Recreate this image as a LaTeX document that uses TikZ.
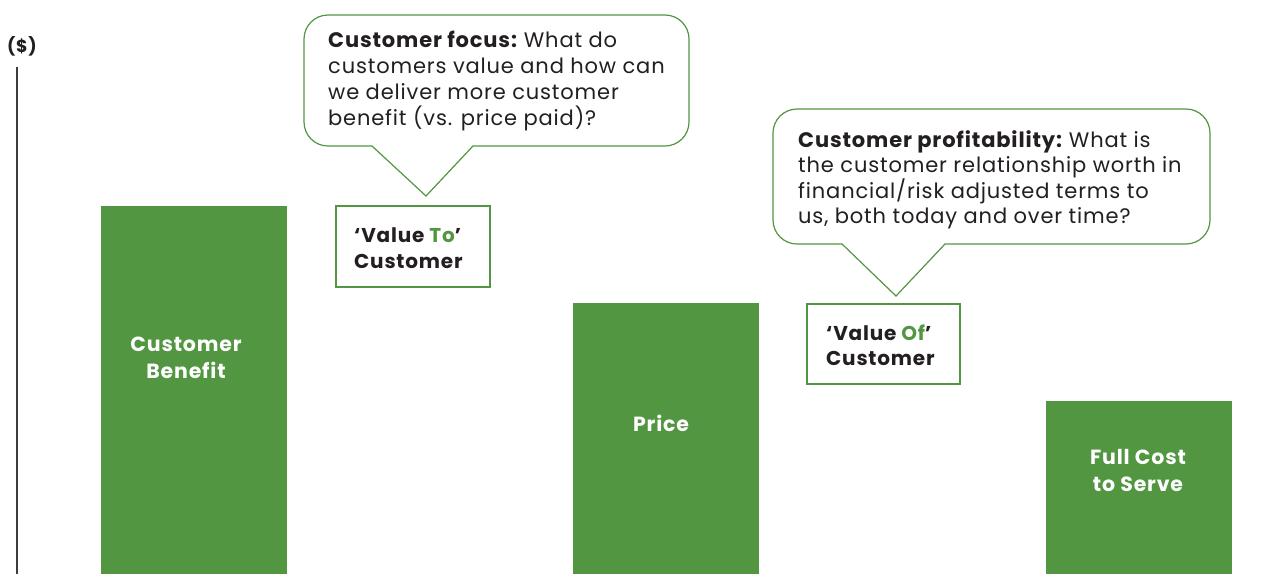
\documentclass[tikz,border=0pt]{standalone}
\usepackage{fontspec}
\setmainfont[LetterSpace=4]{Poppins}
\definecolor{bargreen}{RGB}{82,150,65}
\definecolor{txt}{RGB}{35,31,32}
\definecolor{axisgray}{RGB}{60,60,60}
\begin{document}
\begin{tikzpicture}[x=1pt,y=-1pt,
  bar/.style={fill=bargreen,draw=none},
  barlabel/.style={text=white,font=\fontsize{20.5}{27}\selectfont\bfseries,align=center,inner sep=0pt},
  callout/.style={draw=bargreen,line width=1.2pt,fill=white},
  valbox/.style={draw=bargreen,line width=1.2pt,fill=white},
  ctext/.style={text=txt,inner sep=0pt,anchor=base west},
]
\useasboundingbox (0,0) rectangle (1287,574);
% axis
\node[ctext,font=\fontsize{17.5}{20}\selectfont\bfseries] (unit) at (7,52) {(\$)};
\coordinate (axtop) at (17,67);
\coordinate (axbot) at (17,574);
\draw[axisgray,line width=1.8pt] (axtop) -- (axbot);
% bars
\fill[bar] (101,206) rectangle (287,574);
\node[barlabel] (cb) at (186,358) {Customer\\Benefit};
\fill[bar] (573,303) rectangle (759,574);
\node[barlabel] (pr) at (661,423) {Price};
\fill[bar] (1046,401) rectangle (1232,574);
\node[barlabel] (fc) at (1138,470) {Full Cost\\to Serve};
% callout 1
\draw[callout] (426,196) -- (473,146) [rounded corners=24pt] -- (689,146) -- (689,15) -- (304,15) -- (304,146) [sharp corners] -- (372,146) -- cycle;
\node[ctext,font=\fontsize{21}{26}\selectfont] (c1) at (328,47) {\parbox[t]{400pt}{\raggedright\textbf{Customer focus:}\hspace{-2.5pt} What do\\customers value and how can\\we deliver more customer\\benefit (vs. price paid)?}};
% box 1
\draw[valbox] (336,206) rectangle (490,287);
\node[ctext,font=\fontsize{20}{26}\selectfont\bfseries] (v1) at (354,242) {\parbox[t]{200pt}{\raggedright `Value \textcolor{bargreen}{To}'\\Customer}};
% callout 2
\draw[callout] (896,296) -- (945,244) [rounded corners=24pt] -- (1210,244) -- (1210,109) -- (773,109) -- (773,244) [sharp corners] -- (842,244) -- cycle;
\node[ctext,font=\fontsize{21}{25.5}\selectfont] (c2) at (798,147) {\parbox[t]{420pt}{\raggedright\textbf{Customer profitability:}\hspace{-2.5pt} What is\\the customer relationship worth in\\financial/risk adjusted terms to\\us, both today and over time?}};
% box 2
\draw[valbox] (807,304) rectangle (960,384);
\node[ctext,font=\fontsize{20}{25}\selectfont\bfseries] (v2) at (826,340) {\parbox[t]{200pt}{\raggedright `Value \textcolor{bargreen}{Of}'\\Customer}};
\end{tikzpicture}
\end{document}
